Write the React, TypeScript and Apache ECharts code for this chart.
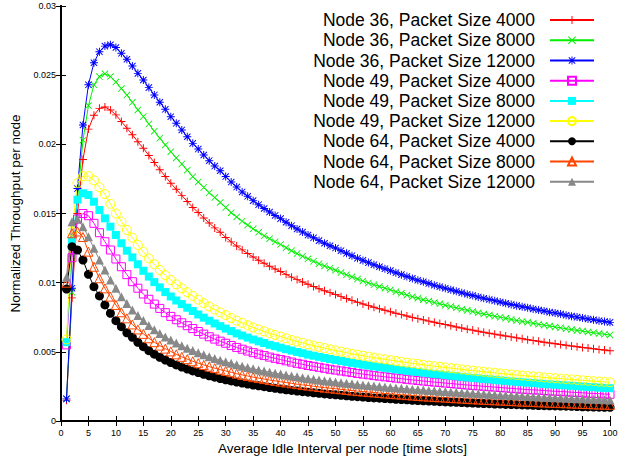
import React, { useEffect, useRef } from "react";
import * as echarts from "echarts";

const idleInterval = [
  1, 2, 3, 4, 5, 6, 7, 8, 9, 10, 11, 12, 13, 14, 15, 16, 17, 18, 19, 20,
  21, 22, 23, 24, 25, 26, 27, 28, 29, 30, 31, 32, 33, 34, 35, 36, 37, 38, 39, 40,
  41, 42, 43, 44, 45, 46, 47, 48, 49, 50, 51, 52, 53, 54, 55, 56, 57, 58, 59, 60,
  61, 62, 63, 64, 65, 66, 67, 68, 69, 70, 71, 72, 73, 74, 75, 76, 77, 78, 79, 80,
  81, 82, 83, 84, 85, 86, 87, 88, 89, 90, 91, 92, 93, 94, 95, 96, 97, 98, 99, 100,
];

const seriesNames = [
  "Node 36, Packet Size 4000",
  "Node 36, Packet Size 8000",
  "Node 36, Packet Size 12000",
  "Node 49, Packet Size 4000",
  "Node 49, Packet Size 8000",
  "Node 49, Packet Size 12000",
  "Node 64, Packet Size 4000",
  "Node 64, Packet Size 8000",
  "Node 64, Packet Size 12000",
];

const n36s4000 = [
  0.0015, 0.0089, 0.015, 0.0189, 0.0211, 0.0221, 0.0226, 0.0227, 0.02248, 0.02213,
  0.02165, 0.02117, 0.02069, 0.02018, 0.01972, 0.01919, 0.01868, 0.01817, 0.01768, 0.01719,
  0.01675, 0.01631, 0.01587, 0.01544, 0.01507, 0.01468, 0.01431, 0.01396, 0.01365, 0.01327,
  0.01295, 0.01265, 0.01237, 0.01211, 0.01186, 0.01162, 0.0114, 0.01119, 0.01099, 0.0108,
  0.0106, 0.0104, 0.01022, 0.01005, 0.00988, 0.00972, 0.00956, 0.00942, 0.00928, 0.00914,
  0.00899, 0.00885, 0.00872, 0.00859, 0.00846, 0.00834, 0.00823, 0.00811, 0.00801, 0.0079,
  0.00779, 0.00769, 0.00759, 0.00749, 0.0074, 0.00731, 0.00722, 0.00714, 0.00705, 0.00697,
  0.00689, 0.0068, 0.00672, 0.00664, 0.00657, 0.00649, 0.00642, 0.00635, 0.00628, 0.00621,
  0.00614, 0.00608, 0.00601, 0.00595, 0.00588, 0.00582, 0.00576, 0.0057, 0.00564, 0.00559,
  0.00553, 0.00548, 0.00542, 0.00537, 0.00532, 0.00527, 0.00522, 0.00517, 0.00513, 0.00508,
];

const n36s8000 = [
  0.0016, 0.0093, 0.016, 0.0203, 0.0228, 0.0243, 0.0249, 0.0251, 0.0249, 0.0245,
  0.02403, 0.02356, 0.02304, 0.02249, 0.02201, 0.02147, 0.02095, 0.02044, 0.01996, 0.01947,
  0.01902, 0.01858, 0.01813, 0.01766, 0.01728, 0.01688, 0.0165, 0.01615, 0.0158, 0.01543,
  0.01506, 0.01475, 0.01444, 0.01416, 0.01389, 0.01364, 0.01339, 0.01318, 0.01296, 0.01276,
  0.01253, 0.01231, 0.0121, 0.01191, 0.01172, 0.01155, 0.01137, 0.01121, 0.01105, 0.0109,
  0.01073, 0.01057, 0.01042, 0.01026, 0.01012, 0.00998, 0.00985, 0.00972, 0.0096, 0.00948,
  0.00935, 0.00923, 0.0091, 0.00899, 0.00888, 0.00877, 0.00867, 0.00856, 0.00847, 0.00837,
  0.00828, 0.00818, 0.00808, 0.008, 0.00791, 0.00782, 0.00773, 0.00766, 0.00758, 0.0075,
  0.00742, 0.00734, 0.00727, 0.0072, 0.00713, 0.00706, 0.00699, 0.00693, 0.00686, 0.0068,
  0.00674, 0.00667, 0.00661, 0.00655, 0.0065, 0.00644, 0.00638, 0.00632, 0.00627, 0.00622,
];

const n36s12000 = [
  0.0016, 0.0096, 0.0168, 0.0214, 0.0243, 0.0259, 0.0267, 0.0271, 0.0272, 0.027,
  0.02658, 0.02615, 0.02566, 0.02513, 0.02465, 0.0241, 0.02357, 0.02304, 0.02253, 0.022,
  0.02152, 0.02104, 0.02055, 0.02007, 0.01966, 0.01923, 0.01882, 0.01843, 0.01809, 0.01767,
  0.01727, 0.01691, 0.01656, 0.01624, 0.01593, 0.01564, 0.01536, 0.01511, 0.01486, 0.01463,
  0.01437, 0.01412, 0.01388, 0.01366, 0.01344, 0.01324, 0.01304, 0.01285, 0.01267, 0.0125,
  0.01231, 0.01212, 0.01195, 0.01177, 0.01161, 0.01145, 0.0113, 0.01115, 0.01101, 0.01087,
  0.01072, 0.01058, 0.01044, 0.01031, 0.01018, 0.01006, 0.00994, 0.00982, 0.00971, 0.0096,
  0.00949, 0.00938, 0.00927, 0.00917, 0.00907, 0.00897, 0.00887, 0.00878, 0.00869, 0.0086,
  0.00851, 0.00842, 0.00834, 0.00826, 0.00818, 0.0081, 0.00802, 0.00795, 0.00787, 0.0078,
  0.00773, 0.00765, 0.00758, 0.00751, 0.00745, 0.00738, 0.00732, 0.00725, 0.00719, 0.00713,
];

const n49s4000 = [
  0.0055, 0.0118, 0.0146, 0.015, 0.01484, 0.01429, 0.01361, 0.01296, 0.01236, 0.01171,
  0.01115, 0.01058, 0.01007, 0.0096, 0.00918, 0.0088, 0.00845, 0.00814, 0.00783, 0.00756,
  0.00732, 0.0071, 0.00689, 0.00668, 0.00647, 0.00628, 0.00609, 0.00592, 0.00577, 0.00562,
  0.00546, 0.00532, 0.00519, 0.00506, 0.00494, 0.00483, 0.00473, 0.00462, 0.00453, 0.00444,
  0.00435, 0.00426, 0.00417, 0.0041, 0.00401, 0.00395, 0.00388, 0.00381, 0.00374, 0.00368,
  0.00362, 0.00356, 0.0035, 0.00344, 0.00339, 0.00334, 0.00328, 0.00324, 0.00319, 0.00315,
  0.0031, 0.00306, 0.00301, 0.00297, 0.00293, 0.00289, 0.00285, 0.00281, 0.00278, 0.00274,
  0.00271, 0.00267, 0.00264, 0.0026, 0.00257, 0.00254, 0.00251, 0.00248, 0.00245, 0.00242,
  0.00239, 0.00236, 0.00233, 0.0023, 0.00227, 0.00225, 0.00223, 0.0022, 0.00217, 0.00215,
  0.00213, 0.00211, 0.00208, 0.00206, 0.00204, 0.00201, 0.00199, 0.00197, 0.00195, 0.00193,
];

const n49s8000 = [
  0.0057, 0.013, 0.016, 0.01646, 0.01634, 0.01585, 0.01525, 0.01465, 0.01405, 0.01345,
  0.01285, 0.01231, 0.01183, 0.01133, 0.01086, 0.01044, 0.01004, 0.00966, 0.00932, 0.009,
  0.00871, 0.00845, 0.00819, 0.00795, 0.0077, 0.00747, 0.00725, 0.00705, 0.00686, 0.00668,
  0.0065, 0.00633, 0.00618, 0.00603, 0.00589, 0.00576, 0.00564, 0.00551, 0.00541, 0.0053,
  0.00519, 0.00509, 0.00499, 0.0049, 0.0048, 0.00472, 0.00464, 0.00456, 0.00448, 0.00441,
  0.00434, 0.00427, 0.0042, 0.00414, 0.00407, 0.00401, 0.00395, 0.0039, 0.00384, 0.00379,
  0.00373, 0.00368, 0.00363, 0.00358, 0.00354, 0.00349, 0.00344, 0.0034, 0.00336, 0.00332,
  0.00327, 0.00324, 0.00319, 0.00315, 0.00311, 0.00308, 0.00304, 0.00301, 0.00297, 0.00293,
  0.0029, 0.00286, 0.00283, 0.0028, 0.00277, 0.00274, 0.00271, 0.00268, 0.00265, 0.00262,
  0.0026, 0.00257, 0.00254, 0.00252, 0.00249, 0.00246, 0.00244, 0.00241, 0.00239, 0.00237,
];

const n49s12000 = [
  0.0059, 0.0137, 0.0172, 0.0177, 0.0177, 0.0174, 0.0169, 0.0164, 0.0157, 0.015,
  0.01442, 0.01381, 0.01325, 0.01272, 0.01222, 0.01176, 0.01133, 0.01092, 0.01054, 0.01019,
  0.00988, 0.00959, 0.00931, 0.00904, 0.00877, 0.00852, 0.00828, 0.00806, 0.00785, 0.00765,
  0.00745, 0.00726, 0.00709, 0.00692, 0.00676, 0.00662, 0.00648, 0.00634, 0.00622, 0.0061,
  0.00598, 0.00586, 0.00575, 0.00565, 0.00554, 0.00545, 0.00536, 0.00527, 0.00518, 0.0051,
  0.00502, 0.00494, 0.00486, 0.00479, 0.00472, 0.00465, 0.00458, 0.00452, 0.00446, 0.0044,
  0.00434, 0.00428, 0.00422, 0.00417, 0.00412, 0.00406, 0.00401, 0.00396, 0.00392, 0.00387,
  0.00382, 0.00378, 0.00373, 0.00368, 0.00364, 0.0036, 0.00356, 0.00352, 0.00348, 0.00344,
  0.0034, 0.00336, 0.00332, 0.00329, 0.00325, 0.00322, 0.00319, 0.00315, 0.00312, 0.00309,
  0.00306, 0.00303, 0.003, 0.00297, 0.00294, 0.00291, 0.00288, 0.00285, 0.00283, 0.0028,
];

const n64s4000 = [
  0.00954, 0.0126, 0.01236, 0.01164, 0.0106, 0.00971, 0.00904, 0.00839, 0.00779, 0.00725,
  0.00682, 0.00638, 0.00605, 0.00569, 0.00537, 0.00508, 0.00483, 0.00461, 0.00441, 0.00423,
  0.00405, 0.0039, 0.00375, 0.00362, 0.0035, 0.00338, 0.00327, 0.00317, 0.00307, 0.00298,
  0.0029, 0.00282, 0.00274, 0.00267, 0.0026, 0.00254, 0.00248, 0.00242, 0.00236, 0.00231,
  0.00226, 0.00221, 0.00217, 0.00212, 0.00208, 0.00204, 0.002, 0.00196, 0.00192, 0.00189,
  0.00186, 0.00182, 0.00179, 0.00176, 0.00173, 0.0017, 0.00167, 0.00165, 0.00162, 0.0016,
  0.00157, 0.00155, 0.00153, 0.0015, 0.00148, 0.00146, 0.00144, 0.00142, 0.0014, 0.00138,
  0.00136, 0.00135, 0.00133, 0.00131, 0.0013, 0.00128, 0.00126, 0.00125, 0.00123, 0.00122,
  0.0012, 0.00119, 0.00118, 0.00116, 0.00115, 0.00114, 0.00112, 0.00111, 0.0011, 0.00109,
  0.00108, 0.00107, 0.00106, 0.00104, 0.00103, 0.00102, 0.00101, 0.001, 0.00099, 0.00099,
];

const n64s8000 = [
  0.01, 0.01357, 0.0137, 0.0133, 0.01224, 0.01115, 0.01032, 0.00959, 0.00899, 0.00839,
  0.00786, 0.00742, 0.00698, 0.00662, 0.0063, 0.00598, 0.0057, 0.00545, 0.00523, 0.00503,
  0.00482, 0.00464, 0.00447, 0.00432, 0.00418, 0.00405, 0.00393, 0.00382, 0.00371, 0.00362,
  0.00352, 0.00342, 0.00333, 0.00325, 0.00317, 0.0031, 0.00303, 0.00296, 0.0029, 0.00284,
  0.00278, 0.00272, 0.00266, 0.00261, 0.00256, 0.00251, 0.00246, 0.00241, 0.00237, 0.00233,
  0.00229, 0.00224, 0.0022, 0.00216, 0.00213, 0.00209, 0.00206, 0.00202, 0.00199, 0.00196,
  0.00193, 0.0019, 0.00187, 0.00184, 0.00181, 0.00178, 0.00176, 0.00173, 0.00171, 0.00169,
  0.00166, 0.00164, 0.00162, 0.00159, 0.00157, 0.00155, 0.00153, 0.00151, 0.00149, 0.00148,
  0.00146, 0.00144, 0.00142, 0.0014, 0.00139, 0.00137, 0.00135, 0.00134, 0.00132, 0.00131,
  0.00129, 0.00128, 0.00126, 0.00125, 0.00123, 0.00122, 0.0012, 0.00119, 0.00118, 0.00117,
];

const n64s12000 = [
  0.0104, 0.0144, 0.0146, 0.01405, 0.01332, 0.01248, 0.01164, 0.01092, 0.01019, 0.00959,
  0.00899, 0.0085, 0.00802, 0.00762, 0.00727, 0.00691, 0.0066, 0.00632, 0.00607, 0.00585,
  0.00563, 0.00544, 0.00526, 0.00509, 0.00494, 0.00479, 0.00465, 0.00452, 0.0044, 0.00428,
  0.00417, 0.00406, 0.00396, 0.00386, 0.00377, 0.00369, 0.00361, 0.00353, 0.00346, 0.00339,
  0.00332, 0.00325, 0.00319, 0.00313, 0.00307, 0.00302, 0.00296, 0.00291, 0.00287, 0.00282,
  0.00277, 0.00273, 0.00269, 0.00264, 0.0026, 0.00257, 0.00253, 0.00249, 0.00246, 0.00243,
  0.00239, 0.00236, 0.00233, 0.0023, 0.00227, 0.00224, 0.00221, 0.00218, 0.00215, 0.00213,
  0.0021, 0.00207, 0.00205, 0.00202, 0.002, 0.00197, 0.00195, 0.00193, 0.0019, 0.00188,
  0.00186, 0.00184, 0.00182, 0.0018, 0.00178, 0.00176, 0.00174, 0.00172, 0.0017, 0.00168,
  0.00167, 0.00165, 0.00163, 0.00161, 0.0016, 0.00158, 0.00157, 0.00155, 0.00153, 0.00152,
];

const seriesValues = [
  n36s4000, n36s8000, n36s12000,
  n49s4000, n49s8000, n49s12000,
  n64s4000, n64s8000, n64s12000,
];

const seriesColors = [
  "#ff0000", "#00ee00", "#0000ff",
  "#ff00ff", "#00ffff", "#ffff00",
  "#000000", "#ff4500", "#888888",
];

const PLUS = "path://M0,4.4H10V5.6H0Z M4.4,0H5.6V10H4.4Z";
const CROSS = "path://M0,0.85L0.85,0L10,9.15L9.15,10Z M9.15,0L10,0.85L0.85,10L0,9.15Z";
const STAR =
  "path://M0,4.4H10V5.6H0Z M4.4,0H5.6V10H4.4Z M0.6,1.45L1.45,0.6L9.4,8.55L8.55,9.4Z M8.55,0.6L9.4,1.45L1.45,9.4L0.6,8.55Z";

// symbol, size, hollow
const markerSpecs: [string, number, boolean][] = [
  [PLUS, 8, false],
  [CROSS, 7, false],
  [STAR, 8, false],
  ["rect", 8, true],
  ["rect", 8, false],
  ["circle", 9, true],
  ["circle", 9, false],
  ["triangle", 9, true],
  ["triangle", 9, false],
];

const FONT = "'Liberation Sans', Arial, sans-serif";

export default function App() {
  const ref = useRef<HTMLDivElement>(null);

  useEffect(() => {
    if (!ref.current) return;
    const chart = echarts.init(ref.current, undefined, { renderer: "svg" });

    const series = seriesNames.map((name, i) => {
      const [symbol, size, hollow] = markerSpecs[i];
      const color = seriesColors[i];
      return {
        name,
        type: "line",
        xAxisIndex: 0,
        yAxisIndex: 0,
        data: idleInterval.map((x, k) => [x, seriesValues[i][k]]),
        symbol,
        symbolSize: size,
        showAllSymbol: true,
        color,
        lineStyle: { color, width: 1 },
        itemStyle: hollow
          ? { color: "transparent", borderColor: color, borderWidth: 1 }
          : { color, borderWidth: 0 },
        emphasis: { disabled: true },
      };
    });

    const axisCommon = {
      type: "value",
      axisLine: { show: true, lineStyle: { color: "#000", width: 2 } },
      axisTick: { show: true, inside: true, length: 5, lineStyle: { color: "#000", width: 1 } },
      splitLine: { show: false },
    };

    chart.setOption({
      animation: false,
      backgroundColor: "#ffffff",
      textStyle: { fontFamily: FONT },
      grid: { left: 61, top: 6, width: 549, height: 415 },
      legend: {
        orient: "vertical",
        align: "right",
        right: 42,
        top: 10,
        padding: 0,
        itemGap: 0,
        itemWidth: 44,
        itemHeight: 10,
        selectedMode: false,
        data: seriesNames,
        textStyle: {
          fontFamily: FONT,
          fontSize: 17.5,
          color: "#000",
          lineHeight: 20.2,
          padding: [0, 10, 0, 0],
        },
      },
      xAxis: [
        {
          ...axisCommon,
          position: "bottom",
          min: 0,
          max: 100,
          interval: 5,
          axisLabel: { show: true, margin: 7, fontSize: 9, color: "#000", fontFamily: FONT },
          name: "Average Idle Interval per node [time slots]",
          nameLocation: "middle",
          nameGap: 9,
          nameTextStyle: { fontSize: 13.5, color: "#000", fontFamily: FONT, padding: [0, 0, 0, 14] },
        },
        {
          ...axisCommon,
          position: "top",
          min: 0,
          max: 100,
          interval: 5,
          axisLabel: { show: false },
        },
      ],
      yAxis: [
        {
          ...axisCommon,
          position: "left",
          min: 0,
          max: 0.03,
          interval: 0.005,
          axisLabel: {
            show: true,
            margin: 5,
            fontSize: 9,
            color: "#000",
            fontFamily: FONT,
            formatter: (v: number) => String(+v.toFixed(3)),
          },
          name: "Normalized Throughput per node",
          nameLocation: "middle",
          nameGap: 30,
          nameTextStyle: { fontSize: 13.5, color: "#000", fontFamily: FONT },
        },
        {
          ...axisCommon,
          position: "right",
          min: 0,
          max: 0.03,
          interval: 0.005,
          axisLabel: { show: false },
        },
      ],
      series,
    });

    return () => chart.dispose();
  }, []);

  return (
    <div
      ref={ref}
      style={{ position: "absolute", left: 0, top: 0, width: 637, height: 461, background: "#fff" }}
    />
  );
}
